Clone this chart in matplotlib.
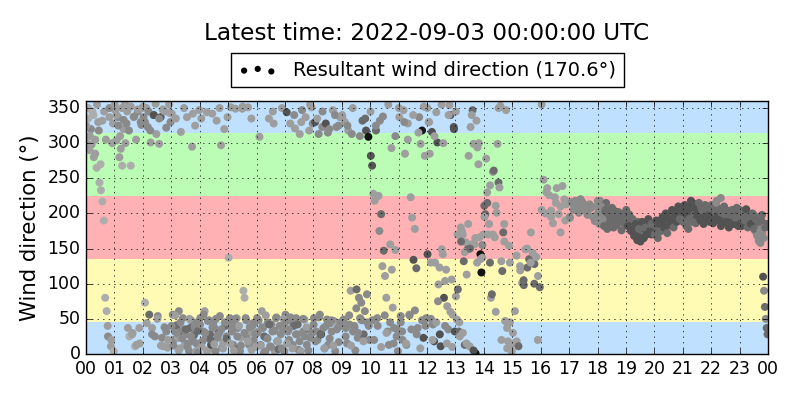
import numpy as np
import matplotlib
matplotlib.use('Agg')
import matplotlib.pyplot as plt
import matplotlib.dates as mdates
from datetime import datetime, timedelta

plt.style.use('classic')

# Windrichtung (Grad) je Stunde, in zeitlicher Reihenfolge
wind_dir = [
    [300, 335, 290, 320, 345, 280, 305, 265, 330, 244, 233, 217, 190, 80, 61, 25, 337, 11, 300, 4],
    [347, 304, 337, 280, 292, 268, 320, 356, 328, 37, 25, 268, 28, 337, 11, 13, 345, 37, 330, 350],
    [337, 73, 350, 323, 56, 301, 37, 340, 25, 313, 54, 299, 337, 23, 11, 345, 32, 9, 355, 330],
    [342, 56, 20, 32, 335, 41, 23, 61, 8, 316, 32, 51, 35, 13, 28, 337, 15, 4, 37, 48, 295, 18, 27, 325, 4, 45, 2, 347],
    [51, 335, 18, 32, 61, 23, 344, 47, 6, 28, 13, 342, 44, 37, 4, 332, 23, 30, 54, 297, 9, 16, 320, 40, 25, 337],
    [137, 51, 351, 32, 13, 42, 349, 51, 37, 8, 4, 23, 349, 90, 80, 51, 27, 351, 13, 32, 335, 40, 20, 45, 10],
    [51, 32, 309, 13, 61, 37, 25, 4, 23, 45, 335, 11, 42, 32, 328, 4, 51, 18, 7, 40, 28, 350, 35, 4],
    [56, 344, 32, 20, 328, 47, 13, 40, 321, 51, 28, 6, 313, 4, 347, 32, 49, 337, 13, 36, 318, 23, 351, 328],
    [51, 330, 32, 20, 313, 56, 28, 323, 37, 8, 328, 49, 13, 320, 44, 32, 347, 47, 4, 323, 37, 17, 337, 40],
    [337, 49, 330, 37, 15, 318, 42, 90, 313, 32, 40, 5, 92, 23, 80, 51, 73, 332, 28, 61, 318, 45, 309, 20],
    [282, 268, 228, 218, 318, 51, 225, 332, 199, 125, 147, 111, 80, 32, 13, 156, 293, 66, 37, 148, 25, 4],
    [337, 54, 32, 347, 285, 13, 328, 56, 223, 194, 134, 178, 122, 37, 337, 299, 318, 23, 282, 51],
    [142, 330, 285, 130, 316, 42, 18, 130, 344, 301, 99, 123, 11, 149, 142, 80, 104, 120, 68, 35, 354, 340, 106, 56, 323, 32],
    [82, 49, 92, 32, 25, 180, 175, 170, 132, 13, 159, 113, 149, 282, 11, 323, 156, 347, 299, 156, 1, 332, 294, 270, 166, 142, 116, 137, 170],
    [211, 199, 278, 230, 170, 185, 130, 80, 85, 259, 261, 166, 211, 201, 299, 244, 237, 353, 132, 118, 173, 185, 47, 347, 37, 18, 154, 130, 13, 4],
    [15, 61, 18, 11, 119, 101, 98, 149, 123, 135, 173, 144, 128, 138, 111, 95],
    [355, 248, 200, 236, 226, 204, 186, 223, 236, 199, 173, 239, 220, 213, 216],
    [193, 216, 213, 218, 209, 201, 220, 216, 210, 205, 199, 213, 208, 195, 189, 198],
    [212, 205, 218, 200, 195, 210, 190, 203, 215, 198, 193, 188, 205, 200, 196, 192, 199, 203, 197, 190, 201, 194, 188, 196, 199, 192, 186, 195],
    [196, 190, 199, 188, 185, 192, 180, 186, 178, 183, 175, 188, 172, 180, 168, 176, 182, 165, 178, 170, 185, 173, 180, 176, 186, 170, 183, 178],
    [180, 175, 186, 172, 183, 178, 190, 176, 185, 181, 188, 179, 193, 184, 190, 186, 196, 188, 194, 199, 190, 202, 195, 205, 198, 200, 194, 207],
    [200, 190, 205, 182, 196, 178, 203, 192, 210, 215, 205, 198, 208, 193, 201, 206, 195, 210, 199, 204, 190, 207, 197, 202, 194, 209, 200, 196],
    [205, 198, 210, 193, 202, 218, 196, 207, 190, 222, 200, 195, 204, 188, 199, 193, 186, 201, 196, 190, 198, 185, 194, 200, 188, 196, 191, 197],
    [195, 188, 200, 192, 185, 198, 190, 196, 187, 193, 200, 184, 191, 186, 195, 180, 197, 175, 189, 170, 184, 161, 178, 158, 190, 172, 110, 90, 67, 50, 37, 28],
]

# Windgeschwindigkeit (m/s) je Stunde -> Grauton der Punkte
wind_speed = [
    [2, 1, 2, 3, 1, 2, 2, 1, 2, 1, 1, 1, 1, 1, 1, 3, 2, 2, 2, 1],
    [2, 2, 3, 2, 2, 1, 2, 2, 3, 2, 1, 1, 2, 2, 1, 2, 3, 2, 3, 2],
    [3, 1, 2, 3, 4, 2, 2, 3, 3, 2, 3, 2, 5, 3, 2, 2, 3, 2, 2, 3],
    [2, 3, 3, 3, 2, 4, 2, 3, 2, 2, 4, 3, 3, 2, 3, 2, 3, 3, 4, 3, 2, 3, 4, 2, 2, 3, 3, 2],
    [3, 2, 3, 3, 2, 3, 2, 3, 2, 4, 5, 2, 3, 3, 3, 2, 3, 4, 3, 2, 3, 2, 2, 4, 3, 2],
    [1, 3, 2, 3, 3, 3, 2, 2, 3, 4, 3, 2, 2, 1, 1, 3, 3, 2, 3, 2, 2, 3, 3, 3, 2],
    [3, 2, 2, 3, 2, 3, 4, 3, 4, 3, 2, 3, 3, 3, 2, 2, 3, 3, 4, 2, 3, 2, 3, 3],
    [3, 5, 3, 3, 2, 3, 3, 4, 2, 3, 3, 3, 2, 2, 3, 3, 2, 2, 3, 4, 2, 3, 2, 3],
    [3, 5, 3, 3, 3, 3, 6, 3, 3, 4, 5, 3, 3, 3, 3, 3, 2, 2, 3, 3, 3, 3, 2, 3],
    [2, 3, 2, 3, 3, 2, 3, 2, 3, 3, 3, 3, 4, 3, 3, 3, 3, 4, 4, 3, 5, 3, 6, 3],
    [5, 5, 2, 2, 4, 3, 2, 3, 4, 2, 4, 2, 2, 3, 3, 2, 2, 2, 3, 2, 3, 3],
    [2, 3, 3, 2, 2, 3, 2, 2, 2, 2, 5, 2, 4, 3, 3, 2, 6, 5, 2, 3],
    [5, 2, 2, 2, 5, 3, 5, 2, 2, 5, 2, 2, 5, 2, 2, 5, 2, 2, 2, 3, 2, 5, 2, 2, 5, 5],
    [2, 2, 4, 4, 2, 2, 2, 2, 4, 4, 2, 2, 4, 2, 2, 2, 2, 4, 2, 2, 6, 2, 2, 2, 2, 6, 6, 2, 2],
    [4, 4, 2, 2, 2, 2, 4, 2, 4, 2, 4, 2, 2, 2, 2, 4, 2, 2, 2, 4, 4, 2, 2, 2, 2, 2, 2, 2, 2, 2],
    [2, 2, 2, 4, 2, 2, 4, 2, 4, 4, 2, 2, 4, 2, 2, 4],
    [2, 2, 2, 2, 2, 2, 2, 2, 2, 2, 2, 2, 2, 2, 2],
    [2, 3, 3, 3, 3, 3, 3, 3, 3, 3, 3, 3, 3, 3, 3, 3],
    [3, 3, 3, 3, 3, 4, 3, 4, 4, 4, 4, 4, 4, 4, 4, 4, 4, 4, 4, 4, 4, 4, 4, 4, 4, 4, 4, 4],
    [4, 4, 5, 4, 5, 4, 5, 5, 4, 5, 5, 4, 5, 5, 5, 4, 5, 5, 5, 4, 5, 5, 4, 5, 5, 5, 4, 5],
    [4, 4, 5, 4, 5, 4, 5, 5, 4, 5, 5, 4, 5, 5, 5, 4, 5, 5, 5, 4, 5, 5, 4, 5, 5, 5, 4, 5],
    [5, 4, 5, 4, 5, 4, 5, 5, 5, 6, 5, 4, 5, 5, 4, 5, 5, 4, 5, 4, 5, 4, 5, 4, 5, 4, 5, 4],
    [4, 5, 4, 5, 4, 3, 5, 4, 5, 3, 4, 5, 4, 5, 4, 4, 5, 4, 4, 5, 4, 4, 5, 4, 4, 5, 4, 4],
    [4, 5, 4, 4, 5, 4, 4, 5, 4, 4, 3, 4, 4, 5, 4, 3, 4, 3, 4, 3, 4, 3, 3, 3, 4, 3, 5, 3, 4, 3, 4, 4],
]

# zweiter Satz Messwerte je Stunde (dazwischen liegende Zeitpunkte)
wind_dir_b = [
    [325, 350, 310, 298, 340, 285, 355, 318, 270, 332, 345, 305, 40, 350, 20, 328],
    [355, 340, 325, 310, 350, 333, 300, 345, 318, 352, 30, 338, 305, 348, 15, 326],
    [352, 330, 44, 345, 318, 28, 340, 356, 50, 335, 12, 348, 38, 322, 20, 343],
    [40, 12, 55, 30, 5, 45, 22, 350, 35, 10, 50, 25, 342, 38, 15, 33],
    [42, 10, 56, 30, 3, 48, 20, 38, 14, 50, 27, 350, 35, 8, 45, 22],
    [45, 15, 35, 5, 50, 25, 40, 12, 352, 30, 48, 18, 38, 6, 44, 28],
    [30, 48, 12, 38, 2, 55, 22, 42, 10, 345, 33, 52, 18, 40, 8, 50],
    [45, 15, 35, 52, 8, 340, 28, 42, 18, 330, 50, 25, 38, 5, 355, 30],
    [42, 18, 335, 52, 28, 345, 8, 40, 315, 22, 48, 12, 340, 35, 325, 45],
    [340, 45, 25, 325, 55, 12, 350, 38, 65, 30, 310, 48, 18, 335, 85, 40],
    [345, 48, 20, 325, 40, 175, 10, 338, 55, 30, 355, 45, 120, 15, 310, 35],
    [350, 45, 20, 330, 15, 305, 55, 35, 340, 62, 28, 315, 8, 48, 352, 40],
    [350, 330, 50, 20, 310, 45, 75, 28, 355, 300, 40, 15, 340, 60, 10, 320],
    [345, 170, 45, 160, 30, 145, 15, 185, 150, 340, 5, 165, 130, 300, 135, 155],
    [195, 215, 240, 170, 60, 350, 20, 160, 8, 45],
    [30, 140, 125, 105, 150, 130, 100, 20],
    [205, 230, 195, 215, 210, 190],
    [195, 205, 212, 220, 205, 198, 210, 196],
    [218, 185, 210, 192, 182, 205, 178, 200, 186, 208, 180, 198, 184, 202, 190, 176, 196, 188],
    [205, 182, 198, 175, 192, 168, 185, 162, 178, 160, 188, 165, 180, 170, 192, 175, 185, 172],
    [170, 190, 165, 185, 175, 195, 180, 200, 172, 192, 185, 205, 180, 198, 188, 210, 192, 205],
    [188, 212, 185, 208, 192, 218, 188, 212, 186, 200, 215, 190, 205, 185, 212, 195, 208, 188],
    [212, 186, 208, 215, 190, 205, 182, 200, 210, 188, 204, 180, 198, 205, 185, 194, 208, 182],
    [205, 182, 198, 190, 206, 180, 195, 185, 200, 178, 192, 168, 188, 175, 198, 165, 180, 185],
]

wind_speed_b = [
    [2, 1, 2, 2, 1, 2, 2, 3, 1, 2, 2, 2, 2, 3, 2, 2],
    [2, 2, 3, 2, 2, 3, 2, 2, 3, 2, 2, 3, 2, 2, 2, 3],
    [2, 3, 2, 3, 3, 3, 5, 2, 2, 3, 2, 2, 3, 3, 2, 2],
    [3, 3, 2, 3, 2, 3, 3, 2, 4, 3, 2, 3, 2, 3, 3, 4],
    [3, 2, 3, 3, 2, 3, 4, 3, 2, 3, 3, 2, 3, 2, 3, 4],
    [3, 2, 3, 2, 3, 3, 2, 3, 2, 3, 3, 2, 3, 2, 3, 3],
    [3, 3, 2, 3, 3, 2, 3, 4, 3, 2, 3, 3, 2, 3, 3, 2],
    [3, 2, 3, 3, 2, 3, 3, 4, 3, 2, 3, 3, 2, 3, 2, 3],
    [3, 3, 2, 3, 4, 3, 2, 3, 3, 3, 3, 2, 3, 3, 3, 3],
    [2, 3, 3, 3, 3, 2, 2, 3, 3, 3, 3, 3, 2, 4, 3, 3],
    [2, 3, 3, 3, 3, 3, 2, 3, 3, 2, 2, 3, 2, 3, 3, 3],
    [2, 3, 3, 3, 2, 2, 3, 3, 2, 3, 3, 2, 2, 3, 2, 3],
    [2, 2, 3, 2, 2, 2, 3, 5, 2, 2, 3, 2, 2, 2, 2, 5],
    [2, 2, 2, 4, 2, 2, 2, 2, 4, 2, 5, 2, 2, 2, 2, 3],
    [2, 4, 2, 2, 2, 2, 2, 2, 2, 2],
    [2, 2, 2, 4, 2, 2, 4, 2],
    [2, 2, 2, 2, 2, 2],
    [3, 3, 3, 3, 3, 3, 3, 3],
    [3, 3, 3, 3, 4, 4, 4, 4, 4, 4, 4, 4, 4, 4, 4, 4, 4, 4],
    [4, 5, 4, 5, 4, 5, 5, 5, 4, 5, 5, 5, 4, 5, 5, 5, 4, 5],
    [4, 5, 4, 5, 4, 5, 5, 5, 4, 5, 5, 5, 4, 5, 5, 5, 4, 5],
    [4, 5, 4, 5, 4, 5, 4, 5, 4, 5, 4, 5, 4, 5, 4, 5, 4, 5],
    [4, 5, 4, 3, 5, 4, 5, 4, 4, 5, 4, 5, 4, 4, 5, 4, 4, 5],
    [4, 5, 4, 4, 5, 4, 4, 5, 4, 4, 4, 3, 4, 3, 4, 3, 4, 4],
]

resultant_dir = 170.6
latest = datetime(2022, 9, 3, 0, 0, 0)
start = latest - timedelta(days=1)

# Farbbänder der Himmelsrichtungen
bands = [(0, 45, '#bfe1ff'), (45, 135, '#fffab4'), (135, 225, '#ffb1b3'),
         (225, 315, '#bbfdb5'), (315, 360, '#bfe1ff')]

# Zeitstempel: Messwerte gleichmäßig innerhalb jeder Stunde
times, dirs, speeds = [], [], []
for dir_set, spd_set, off in [(wind_dir, wind_speed, 0.5), (wind_dir_b, wind_speed_b, 0.2)]:
    for h, (d, s) in enumerate(zip(dir_set, spd_set)):
        n = len(d)
        for i in range(n):
            times.append(start + timedelta(hours=h + (i + off) / n))
        dirs += d
        speeds += s

grey = np.interp(speeds, [1, 2, 3, 4, 5, 6], [0.68, 0.62, 0.54, 0.42, 0.32, 0.08])
colors = [str(g) for g in grey]

fig = plt.figure(figsize=(8, 4), dpi=100, facecolor='white')
ax = fig.add_axes([0.1075, 0.115, 0.8525, 0.6325])

for lo, hi, col in bands:
    ax.axhspan(lo, hi, color=col, zorder=0, linewidth=0)

ax.scatter(times, dirs, c=colors, s=33, edgecolors='none', zorder=1)

# Legenden-Stellvertreter
proxy = ax.scatter([], [], c='k', s=20, edgecolors='none',
                   label='Resultant wind direction (%.1f°)' % resultant_dir)
ax.legend(handles=[proxy], loc='lower center', bbox_to_anchor=(0.5, 1.015),
          scatterpoints=3, fontsize=14, fancybox=False, borderaxespad=0.5)

ax.set_xlim(start, latest)
ax.set_ylim(0, 360)
ax.set_yticks(np.arange(0, 351, 50))
ax.xaxis.set_major_locator(mdates.HourLocator())
ax.xaxis.set_major_formatter(mdates.DateFormatter('%H'))
ax.tick_params(labelsize=12.5)
ax.set_ylabel('Wind direction (°)', fontsize=15.3)
ax.grid(True)

fig.text(427 / 800, 1 - 34 / 400, 'Latest time: %s UTC' % latest.strftime('%Y-%m-%d %H:%M:%S'),
         ha='center', va='center', fontsize=16.7)

plt.savefig('out.png', dpi=100, facecolor='white')
